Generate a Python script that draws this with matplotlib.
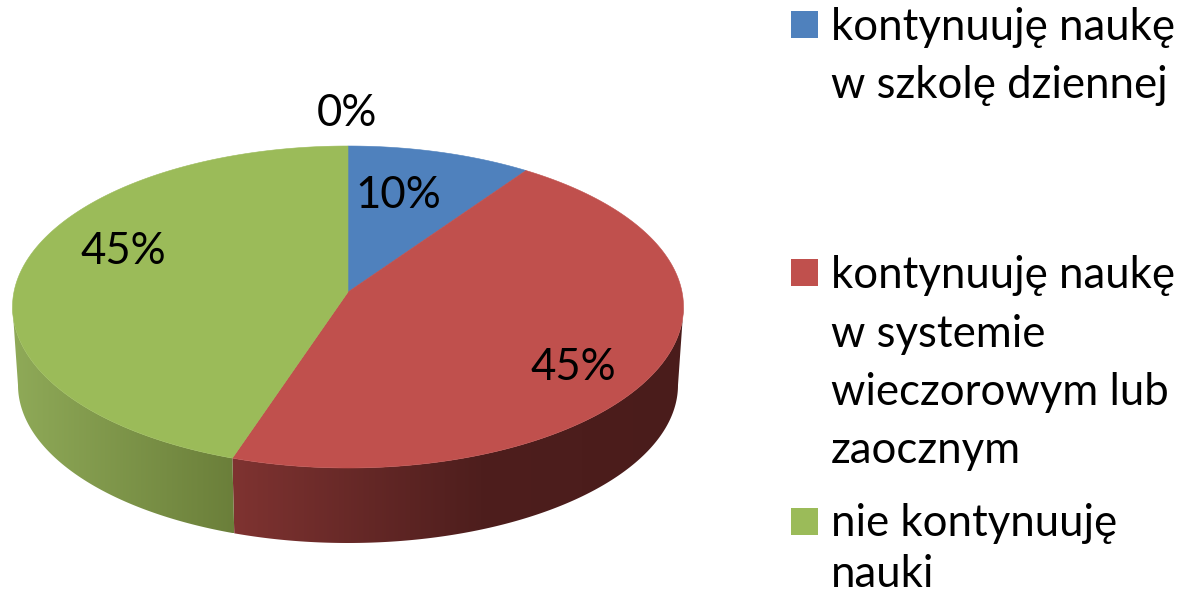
import numpy as np
import matplotlib
matplotlib.use("Agg")
import matplotlib.pyplot as plt
from matplotlib.patches import Polygon, Rectangle
from matplotlib.colors import LinearSegmentedColormap

categories = ["kontynuuję naukę\nw szkolę dziennej",
              "kontynuuję naukę\nw systemie\nwieczorowym lub\nzaocznym",
              "nie kontynuuję\nnauki"]
# visual shares of the drawn pie, in percent (blue, red, green)
shares = [8.9, 46.7, 44.4]
value_labels = ["10%", "45%", "45%"]
zero_label = "0%"
colors = ["#4F81BD", "#C0504D", "#9BBB59"]

plt.rcParams["font.family"] = ["Lato", "DejaVu Sans"]
fig = plt.figure(figsize=(11.83, 5.97), dpi=100)
ax = fig.add_axes([0, 0, 1, 1])
ax.set_xlim(0, 1183)
ax.set_ylim(597, 0)
ax.axis("off")

CX, CY, RX, RY = 348, 307, 335.5, 161
BX, BY, BRX, BRY = 348, 385, 330, 158
APEX = (348, 292)

def arc(cx, cy, rx, ry, a, b, n=200):
    t = np.radians(np.linspace(a, b, n))
    return np.c_[cx + rx * np.sin(t), cy - ry * np.cos(t)]

edges = np.concatenate([[0], np.cumsum(shares)]) / np.sum(shares) * 360

def side(a, b, stops):
    top = arc(CX, CY, RX, RY, a, b)
    bot = arc(BX, BY, BRX, BRY, a, b)[::-1]
    poly = Polygon(np.vstack([top, bot]), closed=True, fc="none", ec="none", transform=ax.transData)
    ax.add_patch(poly)
    xs = np.r_[top[:, 0], bot[:, 0]]
    ys = np.r_[top[:, 1], bot[:, 1]]
    cmap = LinearSegmentedColormap.from_list("s", stops)
    im = ax.imshow(np.linspace(0, 1, 256)[None, :], cmap=cmap, aspect="auto",
                   extent=[xs.min(), xs.max(), ys.max(), ys.min()], zorder=1)
    im.set_clip_path(poly)
    ax.set_xlim(0, 1183)
    ax.set_ylim(597, 0)

side(90, edges[2], [(0, "#7F3331"), (0.55, "#4E1E1D"), (1, "#4A1C1B")])
side(edges[2], 270, [(0, "#8FAA58"), (1, "#6B7F3A")])

for i, c in enumerate(colors):
    a = arc(CX, CY, RX, RY, edges[i], edges[i + 1])
    ax.add_patch(Polygon(np.vstack([[APEX], a]), closed=True, fc=c, ec=c, lw=0.4, zorder=2))

fs = 31.5
for txt, (x, y) in zip(value_labels + [zero_label],
                       [(398, 195), (573, 368), (123, 251), (347, 113)]):
    ax.text(x, y, txt, fontsize=fs, ha="center", va="center", color="black", zorder=3)

legend_squares = [11, 259, 508]
line_rows = [[40, 98], [288, 347, 405, 463], [536, 587]]
for cat, c, sy, rows in zip(categories, colors, legend_squares, line_rows):
    ax.add_patch(Rectangle((791, sy), 27, 27, fc=c, ec="none", zorder=3))
    for line, y in zip(cat.split("\n"), rows):
        ax.text(831, y, line, fontsize=fs, ha="left", va="baseline", color="black", zorder=3)

fig.savefig("out.png", dpi=100)
